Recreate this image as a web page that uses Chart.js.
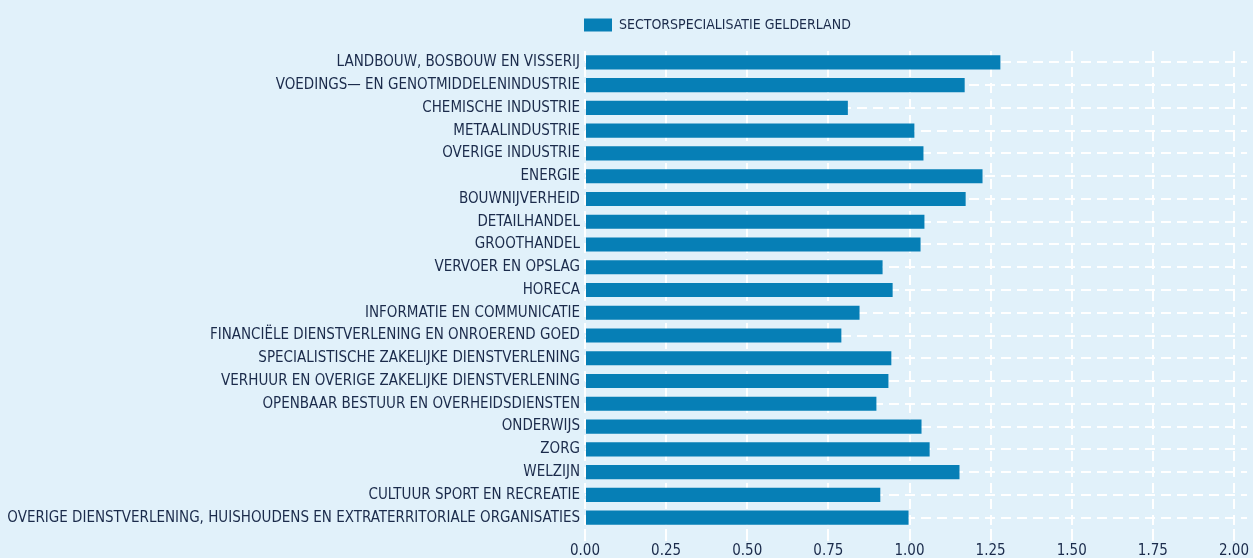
<!DOCTYPE html>
<html>
<head>
<meta charset="utf-8">
<script src="https://cdn.jsdelivr.net/npm/chart.js@4"></script>
<style>
  html, body { margin: 0; padding: 0; background: #e1f1fa; }
  #wrap { width: 1253px; height: 558px; position: relative; }
</style>
</head>
<body>
<div id="wrap"><canvas id="sector"></canvas></div>
<script>
const sectors = [
    'LANDBOUW, BOSBOUW EN VISSERIJ',
    'VOEDINGS\u2014 EN GENOTMIDDELENINDUSTRIE',
    'CHEMISCHE INDUSTRIE',
    'METAALINDUSTRIE',
    'OVERIGE INDUSTRIE',
    'ENERGIE',
    'BOUWNIJVERHEID',
    'DETAILHANDEL',
    'GROOTHANDEL',
    'VERVOER EN OPSLAG',
    'HORECA',
    'INFORMATIE EN COMMUNICATIE',
    'FINANCIËLE DIENSTVERLENING EN ONROEREND GOED',
    'SPECIALISTISCHE ZAKELIJKE DIENSTVERLENING',
    'VERHUUR EN OVERIGE ZAKELIJKE DIENSTVERLENING',
    'OPENBAAR BESTUUR EN OVERHEIDSDIENSTEN',
    'ONDERWIJS',
    'ZORG',
    'WELZIJN',
    'CULTUUR SPORT EN RECREATIE',
    'OVERIGE DIENSTVERLENING, HUISHOUDENS EN EXTRATERRITORIALE ORGANISATIES'
];
const gelderland = [1.28, 1.17, 0.81, 1.015, 1.043, 1.225, 1.173, 1.046, 1.034, 0.917, 0.948,
    0.846, 0.79, 0.944, 0.935, 0.898, 1.037, 1.062, 1.154, 0.91, 0.997];
const xTicks = [0, 0.25, 0.5, 0.75, 1, 1.25, 1.5, 1.75, 2];

const textColor = '#1b2b4b';
const barColor = '#067fb6';
const fontFam = "'Liberation Sans Narrow', 'DejaVu Sans Condensed', 'Roboto', sans-serif";

// legend sits above the plot, starting at the left edge of the bars
const legendShift = {
    id: 'legendShift',
    afterLayout(chart) {
        const lg = chart.legend;
        lg.left = chart.chartArea.left - 18;
        lg.top -= 9;
        lg.bottom -= 9;
    }
};

const ctx = document.getElementById('sector');
new Chart(ctx, {
    type: 'bar',
    data: {
        labels: sectors,
        datasets: [{
            label: 'SECTORSPECIALISATIE GELDERLAND',
            data: gelderland,
            backgroundColor: barColor,
            borderWidth: 0,
            categoryPercentage: 1,
            barPercentage: 0.62
        }]
    },
    plugins: [legendShift],
    options: {
        indexAxis: 'y',
        responsive: true,
        maintainAspectRatio: false,
        animation: false,
        layout: { padding: { top: 10, right: 6, bottom: 0, left: 0 } },
        plugins: {
            tooltip: { enabled: false },
            legend: {
                position: 'top',
                align: 'start',
                labels: {
                    boxWidth: 28,
                    boxHeight: 13,
                    padding: 17,
                    color: textColor,
                    font: { family: fontFam, size: 14 }
                }
            }
        },
        scales: {
            x: {
                min: 0,
                max: 2.04,
                afterBuildTicks: (scale) => { scale.ticks = xTicks.map(v => ({ value: v })); },
                afterFit: (scale) => { scale.height = 29; },
                grid: {
                    color: '#ffffff',
                    lineWidth: 2,
                    tickLength: 12,
                    tickColor: '#ffffff'
                },
                border: { display: false, dash: [10, 6] },
                ticks: {
                    color: textColor,
                    padding: 3,
                    font: { family: fontFam, size: 15, lineHeight: 1 },
                    callback: (v) => Number(v).toFixed(2)
                }
            },
            y: {
                afterFit: (scale) => { scale.width = 585; },
                grid: {
                    offset: false,
                    color: '#ffffff',
                    lineWidth: 2,
                    drawTicks: false
                },
                border: { display: false, dash: [10, 6] },
                ticks: {
                    color: textColor,
                    padding: 5,
                    autoSkip: false,
                    font: { family: fontFam, size: 15 }
                }
            }
        }
    }
});
</script>
</body>
</html>
